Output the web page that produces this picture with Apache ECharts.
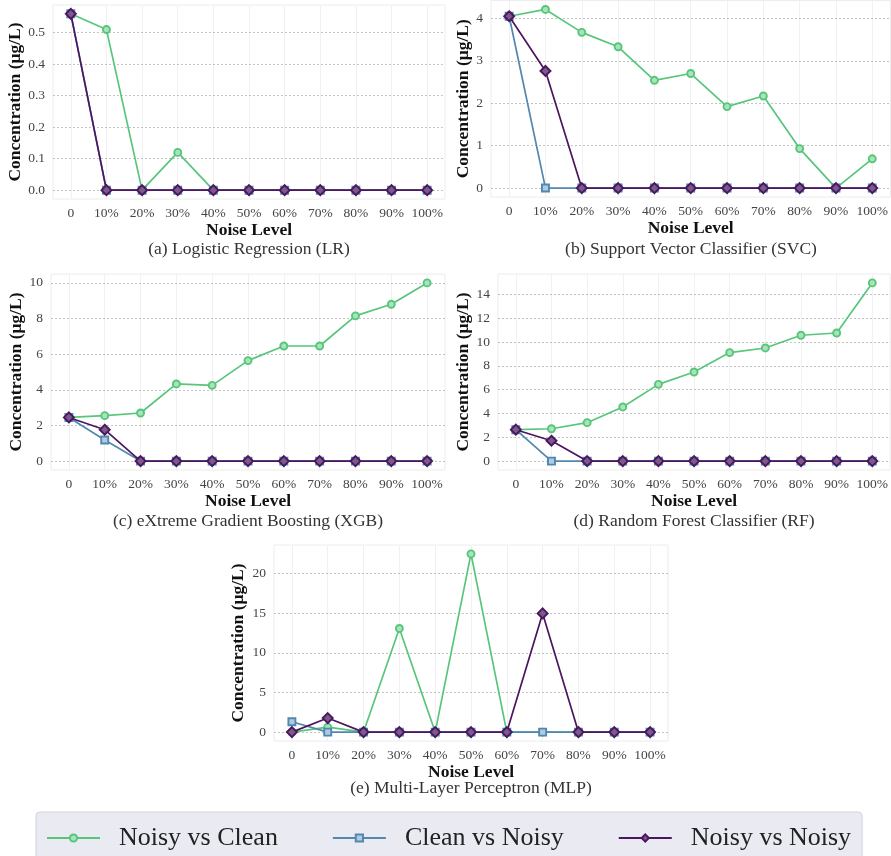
<!DOCTYPE html>
<html>
<head>
<meta charset="utf-8">
<script src="https://cdn.jsdelivr.net/npm/echarts@6/dist/echarts.min.js"></script>
<style>
  html, body { margin: 0; padding: 0; background: #ffffff; }
  #chart { width: 891px; height: 856px; }
</style>
</head>
<body>
<div id="chart"></div>
<script>
// Noise levels on the x axis
const noiseLevels = ['0', '10%', '20%', '30%', '40%', '50%', '60%', '70%', '80%', '90%', '100%'];
const seriesNames = ['Noisy vs Clean', 'Clean vs Noisy', 'Noisy vs Noisy'];

// (a) Logistic Regression
const lrNoisyClean = [0.56, 0.51, 0, 0.12, 0, 0, 0, 0, 0, 0, 0];
const lrCleanNoisy = [0.56, 0, 0, 0, 0, 0, 0, 0, 0, 0, 0];
const lrNoisyNoisy = [0.56, 0, 0, 0, 0, 0, 0, 0, 0, 0, 0];
const lrTicks = [0, 0.1, 0.2, 0.3, 0.4, 0.5];

// (b) Support Vector Classifier
const svcNoisyClean = [4.05, 4.21, 3.67, 3.33, 2.54, 2.70, 1.92, 2.17, 0.93, 0, 0.69];
const svcCleanNoisy = [4.05, 0, 0, 0, 0, 0, 0, 0, 0, 0, 0];
const svcNoisyNoisy = [4.05, 2.76, 0, 0, 0, 0, 0, 0, 0, 0, 0];
const svcTicks = [0, 1, 2, 3, 4];

// (c) eXtreme Gradient Boosting
const xgbNoisyClean = [2.45, 2.55, 2.70, 4.33, 4.25, 5.64, 6.46, 6.46, 8.15, 8.80, 10.0];
const xgbCleanNoisy = [2.45, 1.18, 0, 0, 0, 0, 0, 0, 0, 0, 0];
const xgbNoisyNoisy = [2.45, 1.76, 0, 0, 0, 0, 0, 0, 0, 0, 0];
const xgbTicks = [0, 2, 4, 6, 8, 10];

// (d) Random Forest Classifier
const rfNoisyClean = [2.64, 2.72, 3.23, 4.55, 6.45, 7.49, 9.12, 9.51, 10.58, 10.77, 14.98];
const rfCleanNoisy = [2.64, 0, 0, 0, 0, 0, 0, 0, 0, 0, 0];
const rfNoisyNoisy = [2.64, 1.71, 0, 0, 0, 0, 0, 0, 0, 0, 0];
const rfTicks = [0, 2, 4, 6, 8, 10, 12, 14];

// (e) Multi-Layer Perceptron
const mlpNoisyClean = [0, 0.63, 0, 13.08, 0, 22.49, 0, 0, 0, 0, 0];
const mlpCleanNoisy = [1.31, 0, 0, 0, 0, 0, 0, 0, 0, 0, 0];
const mlpNoisyNoisy = [0, 1.77, 0, 0, 0, 0, 0, 14.98, 0, 0, 0];
const mlpTicks = [0, 5, 10, 15, 20];

const panelTitles = [
  '(a) Logistic Regression (LR)',
  '(b) Support Vector Classifier (SVC)',
  '(c) eXtreme Gradient Boosting (XGB)',
  '(d) Random Forest Classifier (RF)',
  '(e) Multi-Layer Perceptron (MLP)'
];

const FONT = '"Liberation Serif", "Times New Roman", serif';
const LINE_COLORS = ['#57c67b', '#5187b0', '#4b155f'];
const FILL_COLORS = ['#a9e3ba', '#b0cbe0', '#7a5a88'];
const SYMBOLS = ['circle', 'rect', 'diamond'];
const SYMBOL_SIZES = [7, 7, 10];

// Layout of each panel: plot box, label decimals, y-title gap, subtitle anchor
const panels = [
  { data: [lrNoisyClean, lrCleanNoisy, lrNoisyNoisy], ticks: lrTicks, digits: 1,
    grid: { left: 53, top: 5, width: 392, height: 194 }, yGap: 27, titleX: 249, titleY: 240 },
  { data: [svcNoisyClean, svcCleanNoisy, svcNoisyNoisy], ticks: svcTicks, digits: 0,
    grid: { left: 491, top: 0.5, width: 400, height: 196.5 }, yGap: 19, titleX: 691, titleY: 240 },
  { data: [xgbNoisyClean, xgbCleanNoisy, xgbNoisyNoisy], ticks: xgbTicks, digits: 0,
    grid: { left: 51, top: 274, width: 394, height: 196 }, yGap: 25, titleX: 248, titleY: 512 },
  { data: [rfNoisyClean, rfCleanNoisy, rfNoisyNoisy], ticks: rfTicks, digits: 0,
    grid: { left: 498, top: 274, width: 393, height: 196 }, yGap: 26, titleX: 694, titleY: 512 },
  { data: [mlpNoisyClean, mlpCleanNoisy, mlpNoisyNoisy], ticks: mlpTicks, digits: 0,
    grid: { left: 274, top: 545, width: 394, height: 196 }, yGap: 27, titleX: 471, titleY: 779 }
];

const grids = [], xAxes = [], yAxes = [], series = [], titles = [];

panels.forEach((p, i) => {
  const all = [].concat(...p.data);
  const lo = Math.min(...all), hi = Math.max(...all);
  const pad = (hi - lo) * 0.05;

  grids.push(Object.assign({
    show: true, borderColor: '#ececec', borderWidth: 1, backgroundColor: '#ffffff'
  }, p.grid));

  xAxes.push({
    gridIndex: i, type: 'category', data: noiseLevels, boundaryGap: true,
    axisLine: { show: false }, axisTick: { show: false }, splitLine: { show: false },
    axisLabel: { interval: 0, margin: 7, fontFamily: FONT, fontSize: 13.5, color: '#444' },
    name: 'Noise Level', nameLocation: 'middle', nameGap: 22,
    nameTextStyle: { fontFamily: FONT, fontSize: 17.5, fontWeight: 'bold', color: '#111' }
  });

  yAxes.push({
    gridIndex: i, type: 'value', min: lo - pad, max: hi + pad,
    axisLine: { show: false }, axisTick: { show: false }, splitLine: { show: false },
    axisLabel: {
      customValues: p.ticks, margin: 8, fontFamily: FONT, fontSize: 13.5, color: '#444',
      formatter: v => Number(v).toFixed(p.digits)
    },
    name: 'Concentration (μg/L)', nameLocation: 'middle', nameGap: p.yGap, nameRotate: 90,
    nameTextStyle: { fontFamily: FONT, fontSize: 17.5, fontWeight: 'bold', color: '#111' }
  });

  // Grid lines: dashed at the y ticks, faint solid at each noise level
  series.push({
    type: 'line', xAxisIndex: i, yAxisIndex: i, silent: true, z: 1,
    data: noiseLevels.map(() => null), symbol: 'none',
    markLine: {
      silent: true, symbol: ['none', 'none'], label: { show: false }, animation: false, z: 1,
      data: [
        ...noiseLevels.map(c => ({ xAxis: c, lineStyle: { color: '#f1f1f1', type: 'solid', width: 1 } })),
        ...p.ticks.map(v => ({ yAxis: v, lineStyle: { color: '#b4b4b4', type: [2, 2], width: 0.8 } }))
      ]
    }
  });

  p.data.forEach((vals, k) => {
    series.push({
      name: seriesNames[k], type: 'line', xAxisIndex: i, yAxisIndex: i, z: 10 + k,
      data: vals, symbol: SYMBOLS[k], symbolSize: SYMBOL_SIZES[k], showAllSymbol: true,
      lineStyle: { color: LINE_COLORS[k], width: 1.7 },
      itemStyle: { color: FILL_COLORS[k], borderColor: LINE_COLORS[k], borderWidth: 1.9 },
      emphasis: { disabled: true }
    });
  });

  titles.push({
    text: panelTitles[i], left: p.titleX, top: p.titleY, textAlign: 'center', padding: 0,
    textStyle: { fontFamily: FONT, fontSize: 17.5, fontWeight: 'normal', color: '#333' }
  });
});

const chart = echarts.init(document.getElementById('chart'), null, { renderer: 'canvas' });
chart.setOption({
  animation: false,
  backgroundColor: '#ffffff',
  title: titles,
  grid: grids,
  xAxis: xAxes,
  yAxis: yAxes,
  series: series,
  legend: {
    data: seriesNames, left: 36, top: 812, orient: 'horizontal',
    padding: [13, 11, 13, 10], itemGap: 54, itemWidth: 53, itemHeight: 9,
    backgroundColor: '#eaeaf2', borderColor: '#d2d2da', borderWidth: 1, borderRadius: 4,
    textStyle: { fontFamily: FONT, fontSize: 26, color: '#222', padding: [0, 0, 0, 14] }
  }
});
</script>
</body>
</html>
